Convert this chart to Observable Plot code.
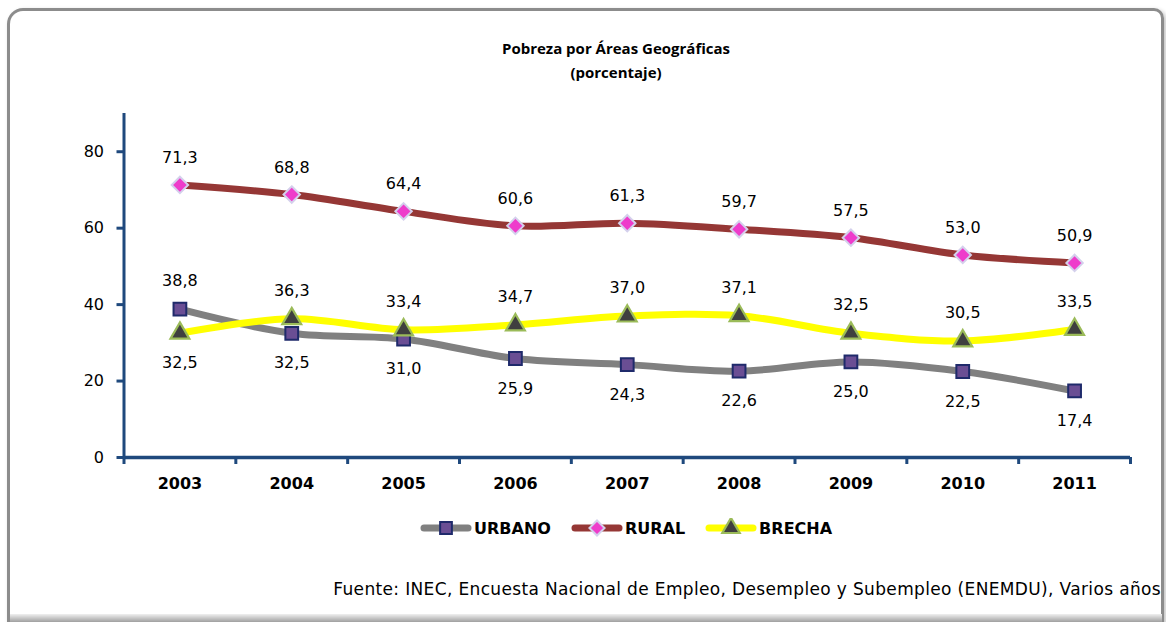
<!DOCTYPE html>
<html>
<head>
<meta charset="utf-8">
<script src="https://cdn.jsdelivr.net/npm/d3@7"></script>
<script src="https://cdn.jsdelivr.net/npm/@observablehq/plot@0.6"></script>
<style>
  html, body { margin: 0; padding: 0; background: #fff; }
  body { width: 1166px; height: 622px; position: relative; overflow: hidden; font-family: "DejaVu Sans", sans-serif; }
  #frame { position: absolute; left: 7px; top: 8px; width: 1151px; height: 620px; border: 3px solid #8c8c8c; border-bottom: none; border-radius: 16px 10px 0 0; box-shadow: 2px 2px 4px rgba(0,0,0,0.25); }
  #bottomline { position: absolute; left: 10px; top: 614px; width: 1152px; height: 8px; background: linear-gradient(#f0f0f0, #a0a0a0); }
  #title { position: absolute; left: 0; width: 1232px; top: 36px; text-align: center; font-family: "Open Sans", sans-serif; font-weight: bold; font-size: 15px; line-height: 24px; color: #000; }
  #chart { position: absolute; left: 0; top: 90px; }
  #legend { position: absolute; left: 420px; top: 518px; display: flex; align-items: center; font-weight: bold; font-size: 16px; color: #000; }
  #legend .item { display: flex; align-items: center; margin-right: 20px; }
  #legend svg { margin-right: 2px; }
  #caption { position: absolute; right: 5px; top: 579px; font-size: 17px; letter-spacing: 0.35px; color: #000; white-space: nowrap; }
</style>
</head>
<body>
<div id="frame"></div>
<div id="bottomline"></div>
<div id="title">Pobreza por Áreas Geográficas<br>(porcentaje)</div>
<div id="chart"></div>
<div id="legend"></div>
<div id="caption">Fuente: INEC, Encuesta Nacional de Empleo, Desempleo y Subempleo (ENEMDU), Varios años</div>
<script>
// ---- data ----
const years = [2003, 2004, 2005, 2006, 2007, 2008, 2009, 2010, 2011];
const urbano = [38.8, 32.5, 31.0, 25.9, 24.3, 22.6, 25.0, 22.5, 17.4];
const rural  = [71.3, 68.8, 64.4, 60.6, 61.3, 59.7, 57.5, 53.0, 50.9];
const brecha = [32.5, 36.3, 33.4, 34.7, 37.0, 37.1, 32.5, 30.5, 33.5];
const seriesNames = ["URBANO", "RURAL", "BRECHA"];
const yTicks = [0, 20, 40, 60, 80];

// ---- styles ----
const lineColors = ["#808080", "#953735", "#FFFF00"];
const markers = {
  URBANO: {symbol: "square", r: 7.2, fill: "#6A4E94", stroke: "#1F2A6B", strokeWidth: 2},
  RURAL:  {symbol: "diamond2", r: 7.4, fill: "#EE3CCB", stroke: "#D4D0EC", strokeWidth: 2},
  BRECHA: {symbol: "triangle", r: 7, fill: "#3F3F3F", stroke: "#9BBB59", strokeWidth: 2.2}
};
const axisColor = "#1F497D";

const valuesBy = {URBANO: urbano, RURAL: rural, BRECHA: brecha};
const rows = seriesNames.flatMap(name => years.map((year, i) => ({serie: name, year, value: valuesBy[name][i], i})));

// label above or below: RURAL always above; for URBANO/BRECHA the higher one above, lower below
function isAbove(d) {
  if (d.serie === "RURAL") return true;
  const other = d.serie === "URBANO" ? brecha[d.i] : urbano[d.i];
  return d.value >= other;
}
const fmt = v => d3.format(".1f")(v).replace(".", ",");

const boundaries = years.map(y => y - 0.5).concat([years[years.length - 1] + 0.5]);

const marks = [
  Plot.ruleX([boundaries[0]], {stroke: axisColor, strokeWidth: 3}),
  Plot.ruleY([0], {stroke: axisColor, strokeWidth: 3.5}),
  Plot.axisY({ticks: yTicks, tickSize: 7, tickPadding: 13, stroke: axisColor, strokeWidth: 3, fill: "#000", fontSize: 16, label: null}),
  Plot.axisX({ticks: boundaries, tickSize: 7, tickFormat: () => "", stroke: axisColor, strokeWidth: 3, label: null}),
  Plot.axisX({ticks: years, tickSize: 0, tickPadding: 20, tickFormat: d => String(d), fill: "#000", fontSize: 16, fontWeight: "bold", label: null}),
  Plot.line(rows, {x: "year", y: "value", z: "serie", stroke: "serie", strokeWidth: 7, curve: "catmull-rom"})
];
for (const name of seriesNames) {
  const m = markers[name];
  marks.push(Plot.dot(rows.filter(d => d.serie === name), {x: "year", y: "value", symbol: () => m.symbol, r: m.r, fill: m.fill, stroke: m.stroke, strokeWidth: m.strokeWidth}));
}
const above = rows.filter(isAbove);
const below = rows.filter(d => !isAbove(d));
marks.push(Plot.text(above.filter(d => d.serie === "RURAL"), {x: "year", y: "value", text: d => fmt(d.value), dy: -27, fontSize: 16, fill: "#000"}));
marks.push(Plot.text(above.filter(d => d.serie !== "RURAL"), {x: "year", y: "value", text: d => fmt(d.value), dy: -28, fontSize: 16, fill: "#000"}));
marks.push(Plot.text(below, {x: "year", y: "value", text: d => fmt(d.value), dy: 30, fontSize: 16, fill: "#000"}));

const chart = Plot.plot({
  width: 1166,
  height: 420,
  marginLeft: 123.5,
  marginRight: 36,
  marginTop: 23,
  marginBottom: 53,
  style: {fontFamily: "DejaVu Sans, sans-serif", background: "transparent", overflow: "visible"},
  x: {type: "linear", domain: [boundaries[0], boundaries[boundaries.length - 1]]},
  y: {domain: [0, 90]},
  symbol: {type: "identity"},
  color: {domain: seriesNames, range: lineColors},
  marks
});
document.getElementById("chart").appendChild(chart);

// ---- legend ----
const legend = document.getElementById("legend");
const symbolPaths = {square: d3.symbolSquare, diamond2: d3.symbolDiamond2, triangle: d3.symbolTriangle};
seriesNames.forEach((name, k) => {
  const m = markers[name];
  const item = document.createElement("div");
  item.className = "item";
  const path = d3.symbol(symbolPaths[m.symbol], Math.PI * m.r * m.r * 0.85)();
  item.innerHTML = `<svg width="52" height="20" viewBox="0 0 52 20">
    <line x1="4" y1="10" x2="48" y2="10" stroke="${lineColors[k]}" stroke-width="7" stroke-linecap="round"/>
    <path d="${path}" transform="translate(26,10)" fill="${m.fill}" stroke="${m.stroke}" stroke-width="${m.strokeWidth}"/>
  </svg><span>${name}</span>`;
  legend.appendChild(item);
});
</script>
</body>
</html>
